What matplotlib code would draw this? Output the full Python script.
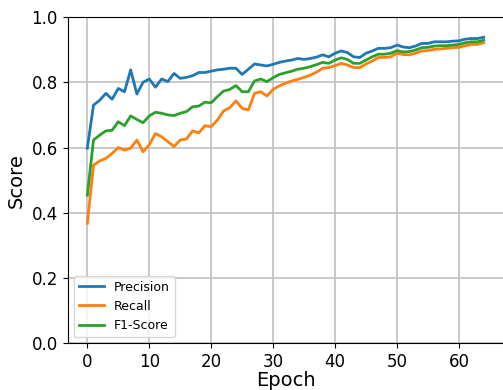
import matplotlib
matplotlib.use("Agg")
import matplotlib.pyplot as plt

epochs = list(range(65))

precision = [
    0.598, 0.730, 0.745, 0.766, 0.748, 0.781, 0.771, 0.838, 0.764, 0.800,
    0.810, 0.785, 0.810, 0.802, 0.827, 0.812, 0.815, 0.820, 0.830, 0.830,
    0.834, 0.838, 0.840, 0.843, 0.843, 0.824, 0.840, 0.856, 0.853, 0.850,
    0.855, 0.861, 0.865, 0.868, 0.873, 0.870, 0.873, 0.877, 0.884, 0.878,
    0.889, 0.896, 0.891, 0.878, 0.876, 0.889, 0.896, 0.904, 0.904, 0.906,
    0.914, 0.908, 0.906, 0.911, 0.919, 0.919, 0.924, 0.924, 0.924, 0.926,
    0.927, 0.932, 0.934, 0.934, 0.938,
]

recall = [
    0.368, 0.546, 0.559, 0.567, 0.582, 0.600, 0.592, 0.598, 0.623, 0.587,
    0.608, 0.643, 0.633, 0.618, 0.603, 0.623, 0.626, 0.651, 0.645, 0.667,
    0.664, 0.684, 0.712, 0.722, 0.743, 0.720, 0.715, 0.766, 0.771, 0.758,
    0.778, 0.789, 0.797, 0.804, 0.809, 0.815, 0.822, 0.831, 0.843, 0.845,
    0.851, 0.858, 0.853, 0.845, 0.845, 0.856, 0.865, 0.876, 0.876, 0.878,
    0.889, 0.885, 0.884, 0.889, 0.896, 0.897, 0.901, 0.902, 0.904, 0.906,
    0.907, 0.912, 0.916, 0.916, 0.921,
]

f1_score = [
    0.454, 0.623, 0.638, 0.651, 0.653, 0.679, 0.667, 0.697, 0.686, 0.676,
    0.697, 0.708, 0.705, 0.700, 0.698, 0.705, 0.710, 0.725, 0.727, 0.739,
    0.737, 0.756, 0.773, 0.778, 0.790, 0.771, 0.771, 0.804, 0.810, 0.802,
    0.814, 0.824, 0.829, 0.834, 0.840, 0.843, 0.848, 0.854, 0.861, 0.858,
    0.868, 0.875, 0.870, 0.858, 0.858, 0.868, 0.878, 0.886, 0.886, 0.889,
    0.897, 0.893, 0.894, 0.899, 0.906, 0.907, 0.911, 0.912, 0.912, 0.914,
    0.916, 0.921, 0.924, 0.924, 0.929,
]

fig = plt.figure(figsize=(5.03, 3.90), dpi=100)
ax = fig.add_axes([0.1342, 0.1197, 0.8668, 0.8367])

ax.plot(epochs, precision, color="#1f77b4", linewidth=2, label="Precision")
ax.plot(epochs, recall, color="#ff7f0e", linewidth=2, label="Recall")
ax.plot(epochs, f1_score, color="#2ca02c", linewidth=2, label="F1-Score")

ax.set_ylim(0.0, 1.0)
ax.set_xlabel("Epoch", fontsize=14, labelpad=0)
ax.set_ylabel("Score", fontsize=14)
ax.tick_params(axis="both", labelsize=12)
ax.grid(True, color="#c0c0c0", linewidth=1.2)
ax.legend(loc="lower left", fontsize=9)

fig.savefig("out.png", dpi=100)
